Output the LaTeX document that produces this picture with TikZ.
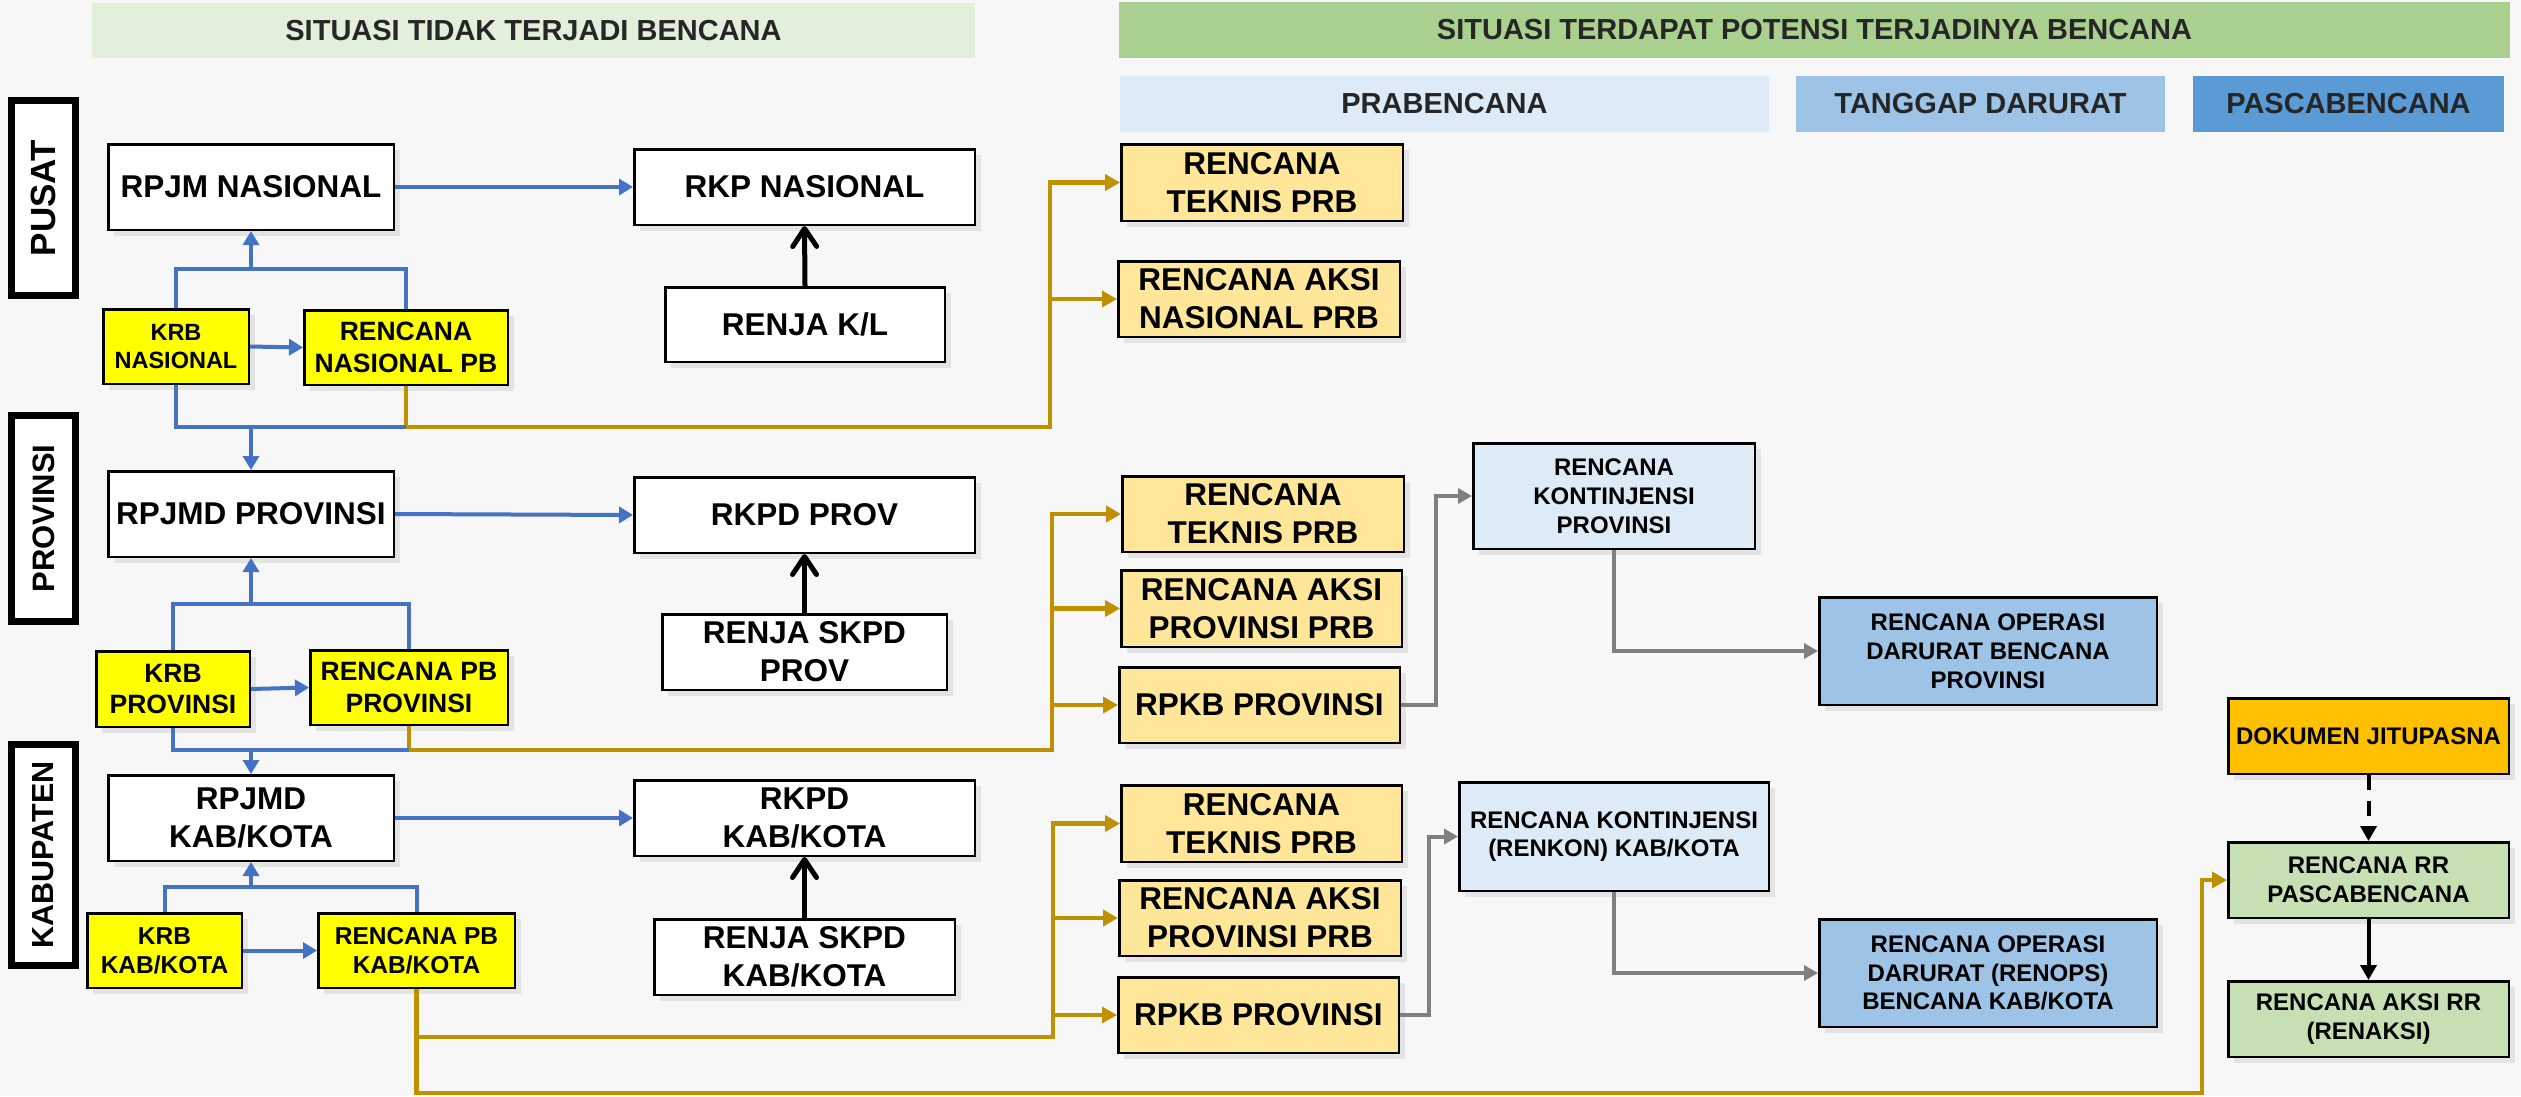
\documentclass[tikz,border=0pt]{standalone}
\usepackage{fontspec}
\setmainfont{Liberation Sans}
\usetikzlibrary{arrows.meta,shadows}

\definecolor{bgc}{HTML}{F7F7F7}
\definecolor{shadowc}{HTML}{E3E3E3}
\definecolor{hdrtext}{HTML}{262626}
\definecolor{hgreenl}{HTML}{E2EFDA}
\definecolor{hgreen}{HTML}{A9D08E}
\definecolor{bluel}{HTML}{DDEBF7}
\definecolor{bluem}{HTML}{9DC3E6}
\definecolor{blued}{HTML}{5B9BD5}
\definecolor{yel}{HTML}{FFFF00}
\definecolor{goldl}{HTML}{FFE699}
\definecolor{orng}{HTML}{FFC000}
\definecolor{greenl}{HTML}{C6E0B4}
\definecolor{linkblue}{HTML}{4472C4}
\definecolor{linkgold}{HTML}{BF9000}
\definecolor{linkgray}{HTML}{7F7F7F}

\tikzset{
  shd/.style={drop shadow={shadow xshift=6pt,shadow yshift=-6pt,fill=shadowc,opacity=1}},
  sz/.style 2 args={minimum width=#1pt-2.5pt, minimum height=#2pt-2.5pt},
  box/.style={draw=black, line width=2.5pt, align=center, inner sep=0pt, text=black, shd},
  fL/.style={font=\bfseries\fontsize{31.5}{37.8}\selectfont},
  fM/.style={font=\bfseries\fontsize{26.5}{31.8}\selectfont},
  fK/.style={font=\bfseries\fontsize{24.5}{29.4}\selectfont},
  fS/.style={font=\bfseries\fontsize{24}{28.8}\selectfont},
  hdr/.style={fill=#1, inner sep=0pt, text=hdrtext, font=\bfseries\fontsize{29}{35}\selectfont},
  side/.style={draw=black, line width=7pt, fill=white, rotate=90, inner sep=0pt},
  bl/.style={draw=linkblue, line width=4pt},
  bla/.style={bl, -{Triangle[length=14pt,width=16pt]}},
  gd/.style={draw=linkgold, line width=4.5pt},
  gda/.style={gd, -{Triangle[length=15pt,width=16pt]}},
  gra/.style={draw=linkgray, line width=4pt, -{Triangle[length=14pt,width=15pt]}},
  blk/.style={draw=black, line width=5pt, -{Straight Barb[length=18pt,width=24pt,round]}},
  blt/.style={draw=black, line width=4pt, -{Triangle[length=15pt,width=16pt]}},
}

\begin{document}
\begin{tikzpicture}[x=1pt,y=-1pt]
\fill[bgc] (0,0) rectangle (2521,1096);
\useasboundingbox (0,0) rectangle (2521,1096);

% column headers
\node[hdr=hgreenl, minimum width=883pt, minimum height=55pt] (h1) at (533.5,30.5) {SITUASI TIDAK TERJADI BENCANA};
\node[hdr=hgreen, minimum width=1391pt, minimum height=56pt] (h2) at (1814.5,30) {SITUASI TERDAPAT POTENSI TERJADINYA BENCANA};
\node[hdr=bluel, minimum width=649pt, minimum height=56pt] (pra) at (1444.5,104) {PRABENCANA};
\node[hdr=bluem, minimum width=369pt, minimum height=56pt] (tgd) at (1980.5,104) {TANGGAP DARURAT};
\node[hdr=blued, minimum width=311pt, minimum height=56pt] (pasca) at (2348.5,104) {PASCABENCANA};

% level labels
\node[side, minimum width=195pt, minimum height=64pt, font=\bfseries\fontsize{35}{40}\selectfont] (pusat) at (43.5,198) {PUSAT};
\node[side, minimum width=206pt, minimum height=64pt, font=\bfseries\fontsize{31}{37}\selectfont] (prov) at (43.5,518.5) {PROVINSI};
\node[side, minimum width=221pt, minimum height=64pt, font=\bfseries\fontsize{30.5}{36}\selectfont] (kab) at (43.5,855) {KABUPATEN};

% ---- national level
\node[box, fill=white, fL, sz={288}{88}] (rpjm) at (251,187) {RPJM NASIONAL};
\node[box, fill=white, fL, sz={343}{78}] (rkp) at (804.5,187) {RKP NASIONAL};
\node[box, fill=white, fL, sz={282}{77}] (renjakl) at (805,324.5) {RENJA K/L};
\node[box, fill=yel, font=\bfseries\fontsize{23.5}{28.2}\selectfont, sz={148}{77}] (krbnas) at (176,346.5) {KRB\\NASIONAL};
\node[box, fill=yel, fM, sz={206}{77}] (rnpb) at (406,347.5) {RENCANA\\NASIONAL PB};

% ---- provincial level
\node[box, fill=white, fL, sz={288}{88}] (rpjmdprov) at (251,514) {RPJMD PROVINSI};
\node[box, fill=white, fL, sz={343}{78}] (rkpdprov) at (804.5,515) {RKPD PROV};
\node[box, fill=white, fL, sz={287}{78}] (renjaprov) at (804.5,652) {RENJA SKPD\\PROV};
\node[box, fill=yel, fM, sz={156}{78}] (krbprov) at (173,689) {KRB\\PROVINSI};
\node[box, fill=yel, fM, sz={200}{77}] (rpbprov) at (409,687.5) {RENCANA PB\\PROVINSI};

% ---- district level
\node[box, fill=white, fL, sz={288}{88}] (rpjmdkab) at (251,818) {RPJMD\\KAB/KOTA};
\node[box, fill=white, fL, sz={343}{78}] (rkpdkab) at (804.5,818) {RKPD\\KAB/KOTA};
\node[box, fill=white, fL, sz={303}{78}] (renjakab) at (804.5,957) {RENJA SKPD\\KAB/KOTA};
\node[box, fill=yel, fK, sz={157}{77}] (krbkab) at (164.5,950.5) {KRB\\KAB/KOTA};
\node[box, fill=yel, fK, sz={199}{77}] (rpbkab) at (416.5,950.5) {RENCANA PB\\KAB/KOTA};

% ---- disaster-risk plans
\node[box, fill=goldl, fL, sz={284}{79}] (teknis1) at (1262,182.5) {RENCANA\\TEKNIS PRB};
\node[box, fill=goldl, fL, sz={284}{78}] (aksi1) at (1259,299) {RENCANA AKSI\\NASIONAL PRB};

\node[box, fill=goldl, fL, sz={284}{78}] (teknis2) at (1263,514) {RENCANA\\TEKNIS PRB};
\node[box, fill=goldl, fL, sz={283}{79}] (aksi2) at (1261.5,608.5) {RENCANA AKSI\\PROVINSI PRB};
\node[box, fill=goldl, fL, sz={283}{78}] (rpkb2) at (1259.5,705) {RPKB PROVINSI};
\node[box, fill=bluel, fS, sz={284}{108}] (kon2) at (1614,496) {RENCANA\\KONTINJENSI\\PROVINSI};
\node[box, fill=bluem, fS, sz={340}{110}] (ops2) at (1988,651) {RENCANA OPERASI\\DARURAT BENCANA\\PROVINSI};

\node[box, fill=goldl, fL, sz={283}{79}] (teknis3) at (1261.5,823.5) {RENCANA\\TEKNIS PRB};
\node[box, fill=goldl, fL, sz={284}{78}] (aksi3) at (1260,918) {RENCANA AKSI\\PROVINSI PRB};
\node[box, fill=goldl, fL, sz={283}{78}] (rpkb3) at (1258.5,1015) {RPKB PROVINSI};
\node[box, fill=bluel, fS, sz={312}{111}] (kon3) at (1614,836.5) {RENCANA KONTINJENSI\\(RENKON) KAB/KOTA};
\node[box, fill=bluem, fS, sz={340}{110}] (ops3) at (1988,973) {RENCANA OPERASI\\DARURAT (RENOPS)\\BENCANA KAB/KOTA};

% ---- post-disaster documents
\node[box, fill=orng, fS, sz={283}{78}] (jitu) at (2368.5,736) {DOKUMEN JITUPASNA};
\node[box, fill=greenl, fS, sz={283}{78}] (rr) at (2368.5,880) {RENCANA RR\\PASCABENCANA};
\node[box, fill=greenl, fS, sz={283}{78}] (renaksi) at (2368.5,1019) {RENCANA AKSI RR\\(RENAKSI)};

% junction points
\coordinate (jn1) at (251,269);
\coordinate (jn2) at (251,427);
\coordinate (jn3) at (251,604);
\coordinate (jn4) at (251,750);
\coordinate (jn5) at (251,887);
\coordinate (g1) at (1050,427);
\coordinate (g2) at (1052,750);
\coordinate (g3) at (1053,1037);
\coordinate (g4) at (2202,1093);

% gold links to the disaster-risk plans
\draw[gda] (rnpb.south) |- (g1) |- (teknis1.west);
\draw[gda] (g1 |- aksi1.west) -- (aksi1.west);
\draw[gda] (rpbprov.south) |- (g2) |- (teknis2.west);
\draw[gda] (g2 |- aksi2.west) -- (aksi2.west);
\draw[gda] (g2 |- rpkb2.west) -- (rpkb2.west);
\draw[gda] (rpbkab.south) |- (g3) |- (teknis3.west);
\draw[gda] (g3 |- aksi3.west) -- (aksi3.west);
\draw[gda] (g3 |- rpkb3.west) -- (rpkb3.west);
\draw[gda] (rpbkab.south) |- (g4) |- (rr.west);

% blue planning links, national
\draw[bl] (krbnas.north) |- (jn1) -| (rnpb.north);
\draw[bla] (jn1) -- (rpjm.south);
\draw[bla] (krbnas.east) -- (rnpb.west);
\draw[bla] (rpjm.east) -- (rkp.west);
\draw[bl] (krbnas.south) |- (rnpb.south |- jn2);
\draw[bla] (jn2) -- (rpjmdprov.north);

% blue planning links, provincial
\draw[bl] (krbprov.north) |- (jn3) -| (rpbprov.north);
\draw[bla] (jn3) -- (rpjmdprov.south);
\draw[bla] (krbprov.east) -- (rpbprov.west);
\draw[bla] (rpjmdprov.east) -- (rkpdprov.west);
\draw[bl] (krbprov.south) |- (rpbprov.south |- jn4);
\draw[bla] (jn4) -- (rpjmdkab.north);

% blue planning links, district
\draw[bl] (krbkab.north) |- (jn5) -| (rpbkab.north);
\draw[bla] (jn5) -- (rpjmdkab.south);
\draw[bla] (krbkab.east) -- (rpbkab.west);
\draw[bla] (rpjmdkab.east) -- (rkpdkab.west);

% work plans feeding annual plans
\draw[blk] (renjakl.north) -- (rkp.south);
\draw[blk] (renjaprov.north) -- (rkpdprov.south);
\draw[blk] (renjakab.north) -- (rkpdkab.south);

% contingency and operation plans
\draw[gra] (rpkb2.east) -- ++(35,0) |- (kon2.west);
\draw[gra] (kon2.south) |- (ops2.west);
\draw[gra] (rpkb3.east) -- ++(29,0) |- (kon3.west);
\draw[gra] (kon3.south) |- (ops3.west);

% rehabilitation and reconstruction
\draw[blt, dash pattern=on 15pt off 11pt] (jitu.south) -- (rr.north);
\draw[blt] (rr.south) -- (renaksi.north);
\end{tikzpicture}
\end{document}
